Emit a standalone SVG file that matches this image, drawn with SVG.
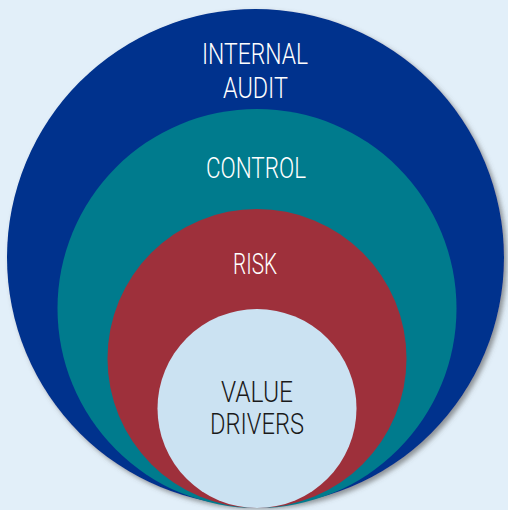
<svg xmlns="http://www.w3.org/2000/svg" width="508" height="510" viewBox="0 0 508 510">
  <defs>
    <filter id="shadow" x="-10%" y="-10%" width="125%" height="125%">
      <feDropShadow dx="3" dy="3" stdDeviation="2.5" flood-color="#555" flood-opacity="0.6"/>
    </filter>
  </defs>
  <style>
    .lbl { font-family: Roboto, "Liberation Sans", sans-serif; font-weight: 300; font-size: 29px; text-anchor: middle; }
    .w { fill: #ffffff; }
    .d { fill: #1a1a1a; }
  </style>
  <rect x="0" y="0" width="508" height="510" fill="#e2eff9"/>
  <g id="internal-audit">
    <circle cx="255.5" cy="257.5" r="248.5" fill="#00338d" filter="url(#shadow)"/>
    <text class="lbl w" x="255" y="64" textLength="106" lengthAdjust="spacingAndGlyphs">INTERNAL</text>
    <text class="lbl w" x="255.5" y="98" textLength="65" lengthAdjust="spacingAndGlyphs">AUDIT</text>
  </g>
  <g id="control">
    <circle cx="257" cy="308.5" r="199.5" fill="#007b8d"/>
    <text class="lbl w" x="256" y="178" textLength="100" lengthAdjust="spacingAndGlyphs">CONTROL</text>
  </g>
  <g id="risk">
    <circle cx="257" cy="358.5" r="149.5" fill="#9e303b"/>
    <text class="lbl w" x="255" y="274" textLength="44" lengthAdjust="spacingAndGlyphs">RISK</text>
  </g>
  <g id="value-drivers">
    <circle cx="257" cy="408.5" r="99.5" fill="#cbe2f2"/>
    <text class="lbl d" x="257" y="402" textLength="72" lengthAdjust="spacingAndGlyphs">VALUE</text>
    <text class="lbl d" x="257" y="434" textLength="94" lengthAdjust="spacingAndGlyphs">DRIVERS</text>
  </g>
  <g id="connectors"></g>
</svg>
